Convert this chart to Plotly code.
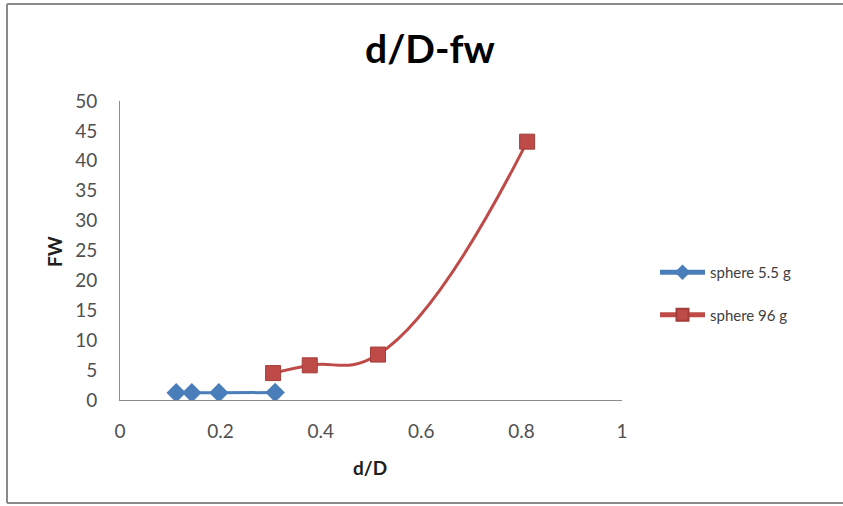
import plotly.graph_objects as go

# Sphere 5.5 g
x_small = [0.112, 0.143, 0.197, 0.309]
fw_small = [1.2, 1.2, 1.2, 1.25]

# Sphere 96 g
x_large = [0.305, 0.378, 0.514, 0.811]
fw_large = [4.5, 5.8, 7.6, 43.2]

x_ticks = [0, 0.2, 0.4, 0.6, 0.8, 1]
x_tick_text = ["0", "0.2", "0.4", "0.6", "0.8", "1"]
y_ticks = [0, 5, 10, 15, 20, 25, 30, 35, 40, 45, 50]

BLUE = "#4A7EBB"
RED = "#BE4B48"
FONT = "Lato, 'Open Sans', sans-serif"

W, H = 843, 506
L, R, T, B = 120, 221, 101, 106
pw, ph = W - L - R, H - T - B


def px_x(px):
    return (px - L) / pw


def px_y(py):
    return (H - B - py) / ph


fig = go.Figure()
fig.add_trace(go.Scatter(
    x=x_small, y=fw_small, name="sphere 5.5 g", mode="lines+markers",
    line=dict(color=BLUE, width=3, shape="spline"),
    marker=dict(symbol="diamond", size=15, color=BLUE, line=dict(color=BLUE, width=0)),
    legendgroup="a",
))
fig.add_trace(go.Scatter(
    x=x_large, y=fw_large, name="sphere 96 g", mode="lines+markers",
    line=dict(color=RED, width=3, shape="spline", smoothing=1.3),
    marker=dict(symbol="square", size=15, color=RED, line=dict(color="#A33D3A", width=1)),
    legendgroup="b",
))

# chart-area frame: left, top and bottom edges
frame = [
    (7, 4, 7, 503),
    (7, 4, 843, 4),
    (7, 503, 843, 503),
]
shapes = [
    dict(type="line", xref="paper", yref="paper",
         x0=px_x(a), y0=px_y(b), x1=px_x(c), y1=px_y(d),
         line=dict(color="#8A8A8A", width=2), layer="below")
    for a, b, c, d in frame
]

fig.update_layout(
    width=W, height=H,
    margin=dict(l=L, r=R, t=T, b=B),
    paper_bgcolor="white", plot_bgcolor="white",
    font=dict(family=FONT, size=15, color="#404040"),
    showlegend=True,
    legend=dict(
        x=px_x(655), y=px_y(256), xanchor="left", yanchor="top",
        font=dict(size=15, color="#404040"),
        tracegroupgap=20, traceorder="grouped",
        itemwidth=45, itemsizing="constant", bgcolor="rgba(0,0,0,0)",
    ),
    xaxis=dict(
        range=[0, 1], tickvals=x_ticks, ticktext=x_tick_text,
        showgrid=False, zeroline=False, showline=True,
        linecolor="#8C8C8C", linewidth=1, ticks="",
        tickfont=dict(size=19, color="#505050"),
        ticklabelstandoff=14,
    ),
    yaxis=dict(
        range=[0, 50], tickvals=y_ticks,
        showgrid=False, zeroline=False, showline=True,
        linecolor="#8C8C8C", linewidth=1, ticks="",
        tickfont=dict(size=19, color="#505050"),
        ticklabelstandoff=18,
    ),
    annotations=[
        dict(
            text="<b>d/D-fw</b>", x=px_x(430), y=px_y(48), xref="paper", yref="paper",
            showarrow=False, xanchor="center", yanchor="middle",
            font=dict(size=39, color="#000000", family=FONT),
        ),
        dict(
            text="<b>d/D</b>", x=px_x(370), y=px_y(467), xref="paper", yref="paper",
            showarrow=False, xanchor="center", yanchor="middle",
            font=dict(size=19, color="#202020", family=FONT),
        ),
        dict(
            text="<b>FW</b>", x=px_x(54), y=px_y(252), xref="paper", yref="paper",
            showarrow=False, xanchor="center", yanchor="middle", textangle=-90,
            font=dict(size=19, color="#202020", family=FONT),
        ),
    ],
    shapes=shapes,
)

fig.write_html("out.html")
